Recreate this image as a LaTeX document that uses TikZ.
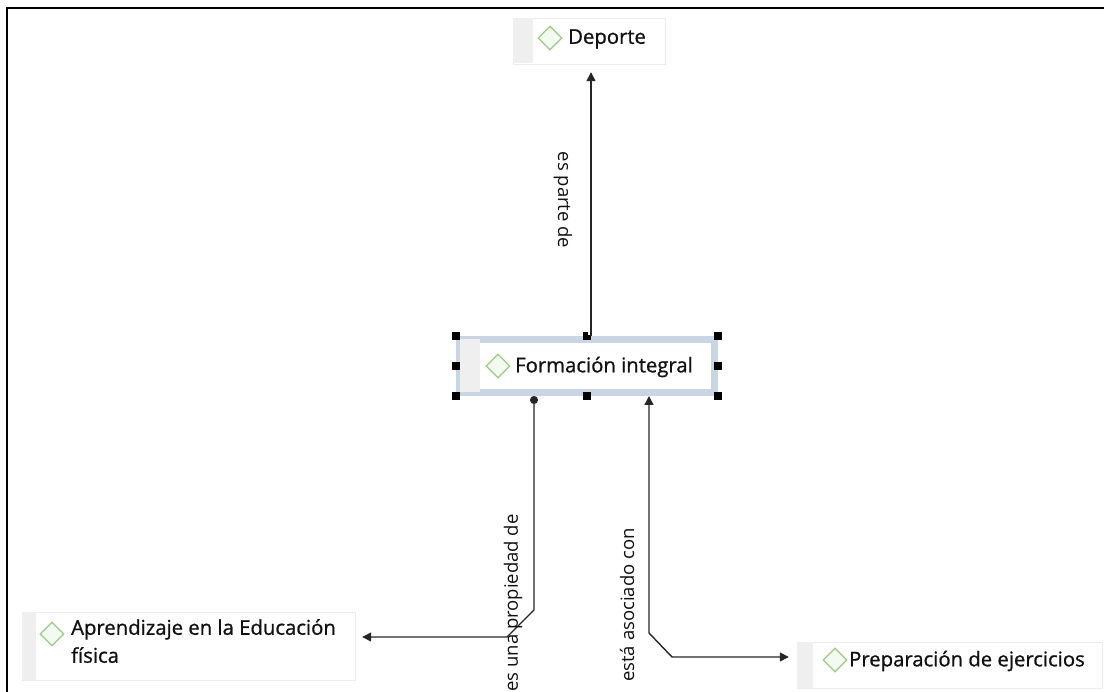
\documentclass[tikz,border=0pt]{standalone}
\usepackage{fontspec}
\setmainfont{Open Sans}
\newfontfamily\nodefont{Open Sans}[FakeBold=0.9]
\usetikzlibrary{arrows.meta,shapes.geometric}
\definecolor{dline}{HTML}{9CC98A}
\definecolor{dfill}{HTML}{F3FAEF}
\definecolor{band}{HTML}{C9D5E3}
\definecolor{strip}{HTML}{EFEFEF}
\definecolor{boxline}{HTML}{ECECEC}
\definecolor{txt}{HTML}{111111}
\begin{document}
\begin{tikzpicture}[x=1pt,y=-1pt,
  box/.style={draw=boxline, fill=white, inner sep=0pt},
  dia/.style={diamond, draw=dline, fill=dfill, line width=1.3pt, minimum width=24pt, minimum height=24pt, inner sep=0pt},
  lbl/.style={font=\nodefont\fontsize{20.3}{28}\selectfont, anchor=west, inner sep=0pt, text=txt, align=left},
  elbl/.style={font=\fontsize{18.5}{20}\selectfont, inner sep=0pt, text=txt},
  conn/.style={draw=black!85, line width=1.4pt},
  tipr/.style={-{Triangle[width=9pt,length=9pt]}},
  handle/.style={fill=black, minimum size=8pt, inner sep=0pt}
]
\useasboundingbox (0,0) rectangle (1104,692);
\draw[line width=2.5pt] (7,692) -- (7,8) -- (1104,8);

% Deporte
\node[box, minimum width=152pt, minimum height=46pt] (dep) at (589,41) {};
\fill[strip] (513,18.5) rectangle (533,63.5);
\node[dia] (depd) at (550,38) {};
\node[lbl] (dept) at (568,39) {Deporte};

% Formacion integral (selected)
\node[draw=band, line width=7pt, minimum width=255pt, minimum height=53pt, inner sep=0pt] (fsel) at (587,366) {};
\fill[strip] (460,339.5) rectangle (480,392.5);
\node[dia] (fid) at (498,366) {};
\node[lbl] (fit) at (515,367) {Formación integral};
\foreach \p in {(456,336),(587,336),(718,336),(456,366),(718,366),(456,396),(587,396),(718,396)}
  \node[handle] at \p {};
\node[fill=white, minimum size=3pt, inner sep=0pt] at (589,334) {};

% Aprendizaje
\node[box, minimum width=333pt, minimum height=68pt] (apr) at (188.5,646) {};
\fill[strip] (22,612) rectangle (36,680);
\node[dia] (aprd) at (52,634) {};
\node[lbl, anchor=north west] (aprt) at (71,619) {Aprendizaje en la Educación\\física};

% Preparacion
\node[box, minimum width=305pt, minimum height=46pt] (prep) at (949.5,665) {};
\fill[strip] (797,642) rectangle (813,688);
\node[dia] (prepd) at (835,660) {};
\node[lbl] (prept) at (849,661) {Preparación de ejercicios};

% Connectors
\draw[conn, tipr] ([xshift=4pt]fsel.north) -- ([xshift=2pt,yshift=-8pt]dep.south);
\node[elbl, rotate=-90] (l1) at (563,200) {es parte de};

\draw[conn, {Circle[length=8pt]}-{Triangle[width=9pt,length=9pt]}] ([xshift=-53pt]fsel.south) -- (534,610) -- (507,637) -- ([xshift=7pt,yshift=9pt]apr.east);
\node[elbl, rotate=90] (l2) at (513,603) {es una propiedad de};

\draw[conn, {Triangle[width=9pt,length=9pt]}-{Triangle[width=9pt,length=9pt]}] ([xshift=62pt]fsel.south) -- (649,633) -- (672,657) -- ([xshift=-8pt,yshift=8pt]prep.west);
\node[elbl, rotate=90] (l3) at (627,605) {está asociado con};
\end{tikzpicture}
\end{document}
